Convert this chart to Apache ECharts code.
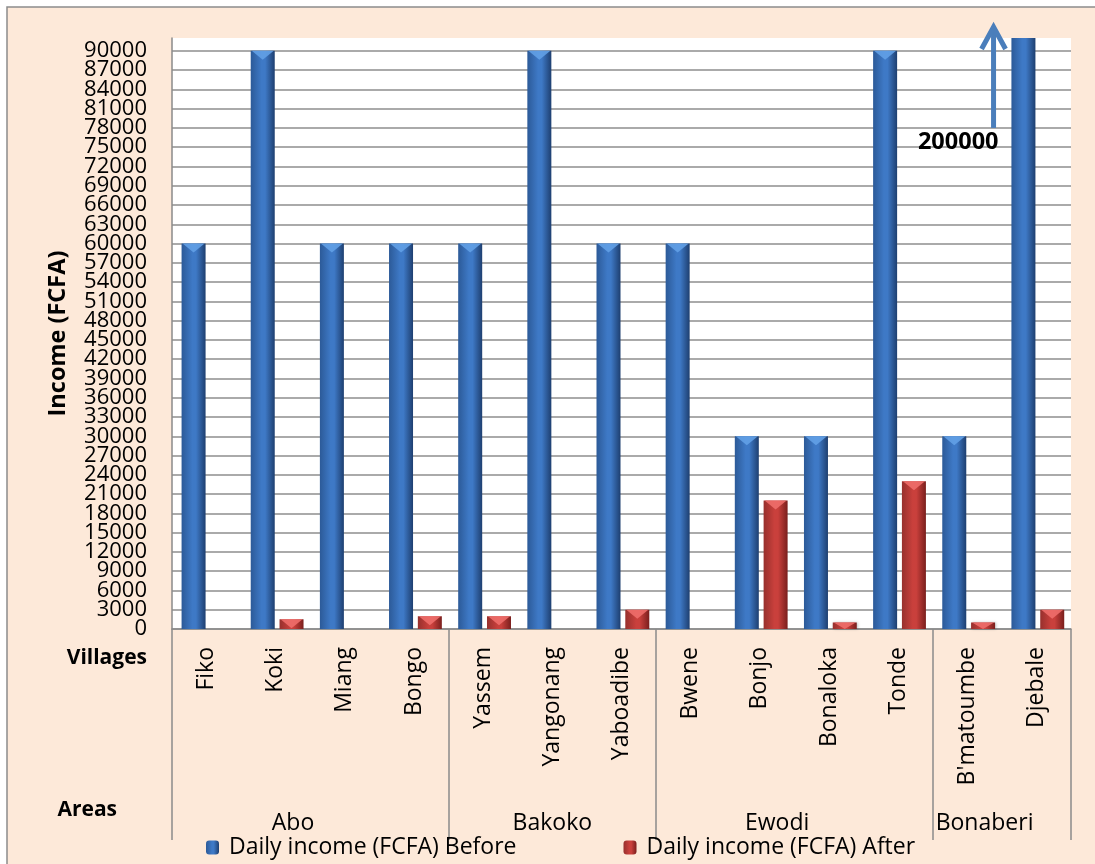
<!DOCTYPE html>
<html>
<head>
<meta charset="utf-8">
<script src="https://cdn.jsdelivr.net/npm/echarts@6/dist/echarts.min.js"></script>
<style>
  html, body { margin: 0; padding: 0; background: #fff; }
  #chart { width: 1095px; height: 864px; }
</style>
</head>
<body>
<div id="chart"></div>
<script>
// Villages (first category level) and the areas they belong to (second level)
const villages = ['Fiko', 'Koki', 'Miang', 'Bongo', 'Yassem', 'Yangonang', 'Yaboadibe',
  'Bwene', 'Bonjo', 'Bonaloka', 'Tonde', "B'matoumbe", 'Djebale'];
const areas = ['Abo', 'Bakoko', 'Ewodi', 'Bonaberi'];
const villagesPerArea = [4, 3, 4, 2];

// Daily income in FCFA
const incomeBefore = [60000, 90000, 60000, 60000, 60000, 90000, 60000,
  60000, 30000, 30000, 90000, 30000, 200000];
const incomeAfter = [0, 1500, 0, 2000, 2000, 0, 3000,
  0, 20000, 1000, 23000, 1000, 3000];

const seriesNames = ['Daily income (FCFA) Before', 'Daily income (FCFA) After'];

const FONT = '"Open Sans", Lato, sans-serif';
const FS = 23;
const GRID = { left: 172, right: 24, top: 38, bottom: 235 };
const Y_MAX = 92000;
const Y_STEP = 3000;
const BAR_W = 24;

// Area boundaries and label anchors along the category band (in category units)
const areaBounds = [0];
villagesPerArea.forEach(n => areaBounds.push(areaBounds[areaBounds.length - 1] + n));
const areaLabelAt = villagesPerArea.map((n, i) =>
  areaBounds[i] + n / 2 - (n % 2 === 0 ? 0.25 : 0));

function cylinder(edgeL, mid, edgeR) {
  return new echarts.graphic.LinearGradient(0, 0, 1, 0, [
    { offset: 0, color: edgeL },
    { offset: 0.45, color: mid },
    { offset: 0.6, color: mid },
    { offset: 1, color: edgeR }
  ]);
}
const looks = [
  { body: cylinder('#2C5A98', '#3E79C6', '#1E3F70'), cap: '#62A0E6', shift: -25 },
  { body: cylinder('#97302D', '#C9403C', '#7A1F1D'), cap: '#EE6E6A', shift: 3.8 }
];

// Bevelled column: gradient body with a lighter wedge on its top face;
// values beyond the axis are cut at the top of the plot.
function columnRenderer(look) {
  return function (params, api) {
    const i = api.value(0);
    const v = api.value(1);
    if (!v) return null;
    const base = api.coord([i, 0]);
    const topY = api.coord([i, Math.min(v, Y_MAX)])[1];
    const x = base[0] + look.shift;
    const h = base[1] - topY;
    const children = [{
      type: 'rect',
      shape: { x: x, y: topY, width: BAR_W, height: h },
      style: { fill: look.body, shadowColor: 'rgba(0,0,0,0.25)', shadowBlur: 3, shadowOffsetX: 1 }
    }];
    if (v <= Y_MAX) {
      const d = Math.min(9, h);
      children.push({
        type: 'polygon',
        shape: { points: [[x + 1, topY], [x + BAR_W - 1, topY], [x + BAR_W / 2, topY + d]] },
        style: { fill: look.cap, opacity: 0.9 }
      });
    }
    return { type: 'group', children: children };
  };
}

const chart = echarts.init(document.getElementById('chart'));

const yCommon = {
  type: 'value', min: 0, max: Y_MAX, interval: Y_STEP, position: 'left',
  axisTick: { show: false }
};
const tickText = v => (v % Y_STEP === 0 && v <= 90000 ? String(v) : '');

chart.setOption({
  backgroundColor: '#fff',
  textStyle: { fontFamily: FONT },
  grid: Object.assign({ show: true, backgroundColor: '#fff', borderWidth: 0 }, GRID),
  legend: {
    left: 206,
    top: 836,
    padding: 0,
    itemWidth: 13,
    itemHeight: 14,
    itemGap: 107,
    textStyle: { fontSize: FS, color: '#000', fontFamily: FONT, padding: [0, 0, 0, 5] },
    data: seriesNames
  },
  xAxis: [
    {
      type: 'category',
      data: villages,
      axisLine: { show: true, lineStyle: { color: '#8A8A8A', width: 1.5 } },
      axisTick: { show: false },
      axisLabel: { rotate: 90, margin: 18, fontSize: FS, color: '#000', fontFamily: FONT, interval: 0 },
      splitLine: { show: false }
    },
    {
      type: 'value',
      position: 'bottom',
      min: 0,
      max: villages.length,
      axisLine: { show: false },
      splitLine: { show: false },
      axisTick: {
        show: true,
        customValues: areaBounds,
        length: 211,
        lineStyle: { color: '#8A8A8A', width: 1.5 }
      },
      axisLabel: {
        customValues: areaLabelAt,
        margin: 183,
        fontSize: FS,
        color: '#000',
        fontFamily: FONT,
        formatter: v => {
          const i = areaLabelAt.findIndex(p => Math.abs(p - v) < 1e-6);
          return i >= 0 ? areas[i] : '';
        }
      }
    }
  ],
  yAxis: [
    Object.assign({}, yCommon, {
      name: 'Income (FCFA)',
      nameLocation: 'middle',
      nameGap: 102,
      nameTextStyle: { fontSize: 23.5, fontWeight: 'bold', color: '#000', fontFamily: FONT },
      axisLine: { show: true, lineStyle: { color: '#8A8A8A', width: 1.5 } },
      axisLabel: {
        showMinLabel: false,
        showMaxLabel: false,
        margin: 25,
        fontSize: 22,
        color: '#000',
        fontFamily: FONT,
        formatter: tickText
      },
      splitLine: { show: true, showMaxLine: false, lineStyle: { color: '#8E8E8E', width: 1.5 } }
    }),
    // companion axis on the same scale that carries the zero label
    Object.assign({}, yCommon, {
      axisLine: { show: false },
      splitLine: { show: false },
      axisLabel: {
        showMinLabel: true,
        showMaxLabel: false,
        margin: 25,
        fontSize: 22,
        color: '#000',
        fontFamily: FONT,
        formatter: v => (v === 0 ? '0' : '')
      }
    })
  ],
  series: [incomeBefore, incomeAfter].map((values, s) => ({
    name: seriesNames[s],
    type: 'custom',
    xAxisIndex: 0,
    yAxisIndex: 0,
    data: values.map((v, i) => [i, v]),
    encode: { x: 0, y: 1 },
    itemStyle: { color: looks[s].body },
    renderItem: columnRenderer(looks[s])
  }))
});

// Frame, side captions and the off-scale marker for the tallest bar
const last = villages.length - 1;
const cx = chart.convertToPixel({ xAxisIndex: 0 }, villages[last]);
const band = cx - chart.convertToPixel({ xAxisIndex: 0 }, villages[last - 1]);
const arrowX = cx - 0.62 * band;
const plotTop = chart.convertToPixel({ yAxisIndex: 0 }, Y_MAX);
const tipY = plotTop - 13;
const baseY = chart.convertToPixel({ yAxisIndex: 0 }, 78000);
const axisY = chart.convertToPixel({ yAxisIndex: 0 }, 0);

chart.setOption({
  graphic: [
    {
      type: 'rect', z: -10, silent: true,
      shape: { x: 7, y: 7, width: 1200, height: 1000 },
      style: { fill: '#FDE9D9', stroke: '#8C8C8C', lineWidth: 1.5 }
    },
    {
      type: 'text', z: 10,
      style: { x: 147, y: axisY + 29, text: 'Villages', align: 'right', verticalAlign: 'middle',
        font: 'bold 21px ' + FONT, fill: '#000' }
    },
    {
      type: 'text', z: 10,
      style: { x: 117, y: axisY + 181, text: 'Areas', align: 'right', verticalAlign: 'middle',
        font: 'bold 21px ' + FONT, fill: '#000' }
    },
    {
      type: 'line', z: 20,
      shape: { x1: arrowX, y1: baseY, x2: arrowX, y2: tipY + 3 },
      style: { stroke: '#4A7EBB', lineWidth: 5 }
    },
    {
      type: 'polyline', z: 20,
      shape: { points: [[arrowX - 12, tipY + 24], [arrowX, tipY + 2], [arrowX + 12, tipY + 24]] },
      style: { stroke: '#4A7EBB', lineWidth: 5, fill: null, lineJoin: 'miter' }
    },
    {
      type: 'text', z: 20,
      style: { x: arrowX + 5, y: baseY + 14, text: String(incomeBefore[last]), align: 'right',
        verticalAlign: 'middle', font: 'bold 23.5px ' + FONT, fill: '#000' }
    }
  ]
});
</script>
</body>
</html>
